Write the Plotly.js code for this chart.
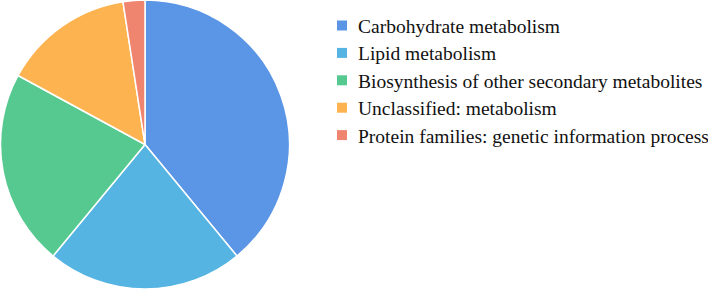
<!DOCTYPE html>
<html>
<head>
<meta charset="utf-8">
<script src="https://cdn.plot.ly/plotly-3.0.1.min.js"></script>
<style>html,body{margin:0;padding:0;background:#fff;}#chart{width:708px;height:289px;}</style>
</head>
<body>
<div id="chart"></div>
<script>
const categories = [
  "Carbohydrate metabolism",
  "Lipid metabolism",
  "Biosynthesis of other secondary metabolites",
  "Unclassified: metabolism",
  "Protein families: genetic information process"
];
const values = [16, 9, 9, 6, 1];
const colors = ["#5B95E5", "#55B4E2", "#55C98F", "#FDB450", "#F0856F"];

const W = 708, H = 289;
const legendX = 337, legendTop = 25.5, rowGap = 27.4, box = 10, textX = 356;
const FONT = "Times New Roman";

const shapes = [], annotations = [];
categories.forEach((c, i) => {
  const cy = legendTop + i * rowGap;
  shapes.push({
    type: "rect", xref: "paper", yref: "paper",
    x0: legendX / W, x1: (legendX + box) / W,
    y0: 1 - (cy + box / 2) / H, y1: 1 - (cy - box / 2) / H,
    fillcolor: colors[i], line: {width: 0}
  });
  annotations.push({
    xref: "paper", yref: "paper", x: textX / W, y: 1 - (cy + 1) / H,
    xanchor: "left", yanchor: "middle", showarrow: false,
    text: c, font: {family: FONT, size: 19.5, color: "#111"}
  });
});

const data = [{
  type: "pie",
  labels: categories,
  values: values,
  sort: false,
  direction: "clockwise",
  rotation: 0,
  textinfo: "none",
  marker: {colors: colors, line: {color: "#ffffff", width: 1.5}},
  domain: {x: [0, 290 / W], y: [0, 1]},
  showlegend: false
}];

const layout = {
  width: W, height: H,
  margin: {l: 0, r: 0, t: 0, b: 0},
  paper_bgcolor: "#ffffff",
  font: {family: FONT},
  showlegend: false,
  shapes: shapes,
  annotations: annotations
};

Plotly.newPlot("chart", data, layout, {displayModeBar: false, staticPlot: true});
</script>
</body>
</html>
